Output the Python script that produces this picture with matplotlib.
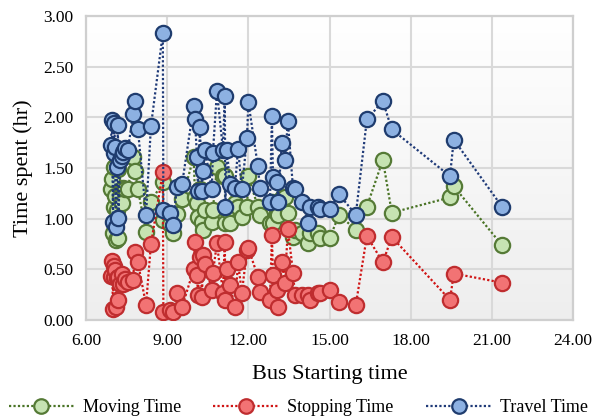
import numpy as np
import matplotlib
matplotlib.use("Agg")
import matplotlib.pyplot as plt
from matplotlib.colors import LinearSegmentedColormap

# Bus trips: starting hour and time components (hours)
start_time = [
    6.92, 6.96, 7.00, 7.02, 7.05, 7.07, 7.10, 7.15, 7.18, 7.20,
    7.26, 7.33, 7.37, 7.44, 7.55, 7.74, 7.81, 7.92, 8.22, 8.40,
    8.84, 8.86, 9.10, 9.21, 9.36, 9.55, 9.98, 10.03, 10.10, 10.14,
    10.21, 10.29, 10.32, 10.40, 10.65, 10.69, 10.84, 11.06, 11.13, 11.15,
    11.21, 11.32, 11.50, 11.62, 11.76, 11.95, 12.00, 12.35, 12.43, 12.80,
    12.87, 12.91, 13.06, 13.09, 13.24, 13.35, 13.46, 13.65, 13.72, 13.98,
    14.20, 14.27, 14.57, 14.64, 15.01, 15.35, 15.97, 16.38, 16.97, 17.30,
    19.45, 19.59, 21.37,
]
moving_time = [
    1.29, 1.39, 0.86, 1.12, 1.51, 1.22, 0.79, 1.09, 1.49, 0.81,
    1.22, 1.16, 1.30, 1.29, 1.29, 1.61, 1.47, 1.29, 0.87, 1.17,
    1.36, 0.99, 0.95, 0.86, 1.05, 1.19, 1.61, 1.21, 1.16, 1.02,
    1.29, 0.97, 0.89, 1.09, 0.97, 1.09, 1.51, 1.42, 1.42, 0.96,
    1.09, 0.96, 1.16, 1.12, 1.02, 1.12, 1.42, 1.12, 1.04, 0.96,
    1.17, 0.96, 1.06, 1.04, 1.20, 1.21, 1.06, 0.82, 0.89, 0.86,
    0.76, 0.86, 0.86, 0.81, 0.81, 1.04, 0.89, 1.12, 1.58, 1.06,
    1.21, 1.32, 0.74,
]
stopping_time = [
    0.44, 0.58, 0.11, 0.53, 0.43, 0.49, 0.13, 0.42, 0.43, 0.20,
    0.36, 0.46, 0.36, 0.41, 0.38, 0.40, 0.67, 0.57, 0.15, 0.75,
    1.46, 0.08, 0.10, 0.08, 0.27, 0.13, 0.50, 0.77, 0.45, 0.25,
    0.62, 0.23, 0.64, 0.55, 0.30, 0.47, 0.76, 0.27, 0.77, 0.20,
    0.50, 0.35, 0.13, 0.57, 0.27, 0.69, 0.71, 0.43, 0.28, 0.20,
    0.84, 0.45, 0.30, 0.13, 0.57, 0.37, 0.90, 0.47, 0.25, 0.25,
    0.25, 0.20, 0.27, 0.27, 0.30, 0.18, 0.15, 0.83, 0.57, 0.82,
    0.20, 0.46, 0.37,
]
travel_time = [
    1.73, 1.97, 0.97, 1.65, 1.94, 1.71, 0.92, 1.51, 1.92, 1.01,
    1.58, 1.62, 1.66, 1.70, 1.68, 2.03, 2.16, 1.88, 1.04, 1.91,
    2.83, 1.09, 1.06, 0.94, 1.31, 1.34, 2.11, 1.98, 1.61, 1.27,
    1.90, 1.27, 1.47, 1.68, 1.29, 1.65, 2.26, 1.68, 2.21, 1.12,
    1.68, 1.34, 1.30, 1.69, 1.29, 1.80, 2.15, 1.52, 1.30, 1.17,
    2.01, 1.41, 1.36, 1.17, 1.75, 1.58, 1.96, 1.30, 1.29, 1.17,
    0.96, 1.12, 1.12, 1.10, 1.10, 1.24, 1.04, 1.98, 2.16, 1.88,
    1.42, 1.78, 1.12,
]

x_ticks = [6, 9, 12, 15, 18, 21, 24]
y_ticks = [0.0, 0.5, 1.0, 1.5, 2.0, 2.5, 3.0]

plt.rcParams["font.family"] = ["Liberation Serif", "DejaVu Serif"]

fig = plt.figure(figsize=(5.97, 4.18), dpi=100)
ax = fig.add_axes([0.144, 0.234, 0.816, 0.728])

# soft vertical gradient in the plot area
grad = np.linspace(0, 1, 256).reshape(-1, 1)
cmap = LinearSegmentedColormap.from_list("bg", ["#eeeeee", "#ffffff"])
ax.imshow(grad, extent=[6, 24, 0, 3], origin="lower", aspect="auto",
          cmap=cmap, zorder=0)

series = [
    (moving_time, "Moving Time", "#c6e3b2", "#557a36", "#4a7426"),
    (stopping_time, "Stopping Time", "#f27374", "#bf2d2f", "#d01414"),
    (travel_time, "Travel Time", "#8db1e2", "#1f3c6e", "#1f3a78"),
]
for i, (vals, label, face, edge, line) in enumerate(series):
    ax.plot(start_time, vals, linestyle=(0, (1, 1)), color=line, lw=1.6,
            marker="o", markersize=11, markerfacecolor=face,
            markeredgecolor=edge, markeredgewidth=1.6, label=label,
            zorder=3 + i)

ax.set_xlim(6, 24)
ax.set_ylim(0, 3)
ax.set_xticks(x_ticks)
ax.set_xticklabels([f"{v:.2f}" for v in x_ticks])
ax.set_yticks(y_ticks)
ax.set_yticklabels([f"{v:.2f}" for v in y_ticks])
ax.tick_params(length=0, labelsize=12.5, colors="black", pad=9)
ax.grid(True, color="#d9d9d9", lw=1.5, zorder=1)
ax.set_axisbelow(True)
for s in ax.spines.values():
    s.set_color("#cfcfcf")
    s.set_linewidth(1.6)

ax.set_xlabel("Bus Starting time", fontsize=16, labelpad=12)
ax.set_ylabel("Time spent (hr)", fontsize=16, labelpad=7)

fig.legend(loc="lower center", ncol=3, frameon=False, fontsize=13,
           handlelength=3.6, columnspacing=1.8, handletextpad=0.5,
           bbox_to_anchor=(0.5, -0.035), markerscale=0.95)

fig.savefig("out.png", dpi=100)
